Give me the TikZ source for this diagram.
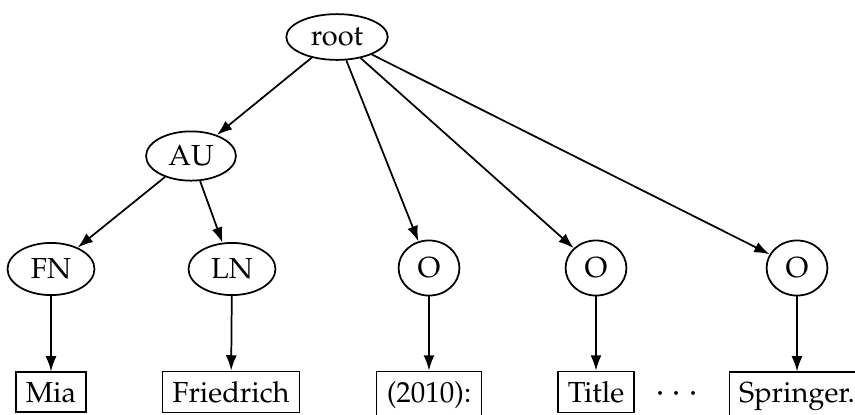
\documentclass[tikz,border=0pt]{standalone}
\usepackage[T1]{fontenc}
\usepackage{mathpazo}
\usetikzlibrary{arrows.meta,shapes.geometric}

\tikzset{
	inner/.style={draw, ellipse, inner sep=0pt, line width=0.6pt},
	leaf/.style={draw, rectangle, inner sep=3.4pt, line width=0.4pt},
	edge/.style={line width=0.6pt, -{Latex[length=5.3pt,width=3.8pt]}}
}

\begin{document}
\begin{tikzpicture}[x=0.345pt, y=-0.345pt]
	\useasboundingbox (0,0) rectangle (855,414);
	% inner nodes
	\node[inner, minimum width=35pt, minimum height=15.8pt] (root) at (337,37) {root};
	\node[inner, minimum width=31pt, minimum height=17pt] (au) at (191,156) {AU};
	\node[inner, minimum width=30pt, minimum height=18pt] (fn) at (51,269) {FN};
	\node[inner, minimum width=30pt, minimum height=18pt] (ln) at (232,269) {LN};
	\node[inner, minimum width=21pt, minimum height=19pt] (o1) at (429,268) {O};
	\node[inner, minimum width=21pt, minimum height=19pt] (o2) at (596,268) {O};
	\node[inner, minimum width=21pt, minimum height=19pt] (o3) at (797,268) {O};
	
	% leaves
	\node[leaf, anchor=base] (mia) at (51,402) {Mia};
	\node[leaf, anchor=base] (fried) at (231,402) {Friedrich};
	\node[leaf, anchor=base] (year) at (429,402) {(2010):};
	\node[leaf, anchor=base] (title) at (596,402) {Title};
	\node[anchor=base] (dots) at (677,402) {\large$\cdots$};
	\node[leaf, anchor=base] (publ) at (797,402) {Springer.};
	
	\draw[edge] (root)--(au);
	\draw[edge] (root)--(o1);
	\draw[edge] (root)--(o2);
	\draw[edge] (root)--(o3);
	\draw[edge] (au)--(fn);
	\draw[edge] (au)--(ln);
	
	\draw[edge] (fn)--(mia);
	\draw[edge] (ln)--(fried);
	\draw[edge] (o1)--(year);
	\draw[edge] (o2)--(title);
	\draw[edge] (o3)--(publ);
\end{tikzpicture}
\end{document}
